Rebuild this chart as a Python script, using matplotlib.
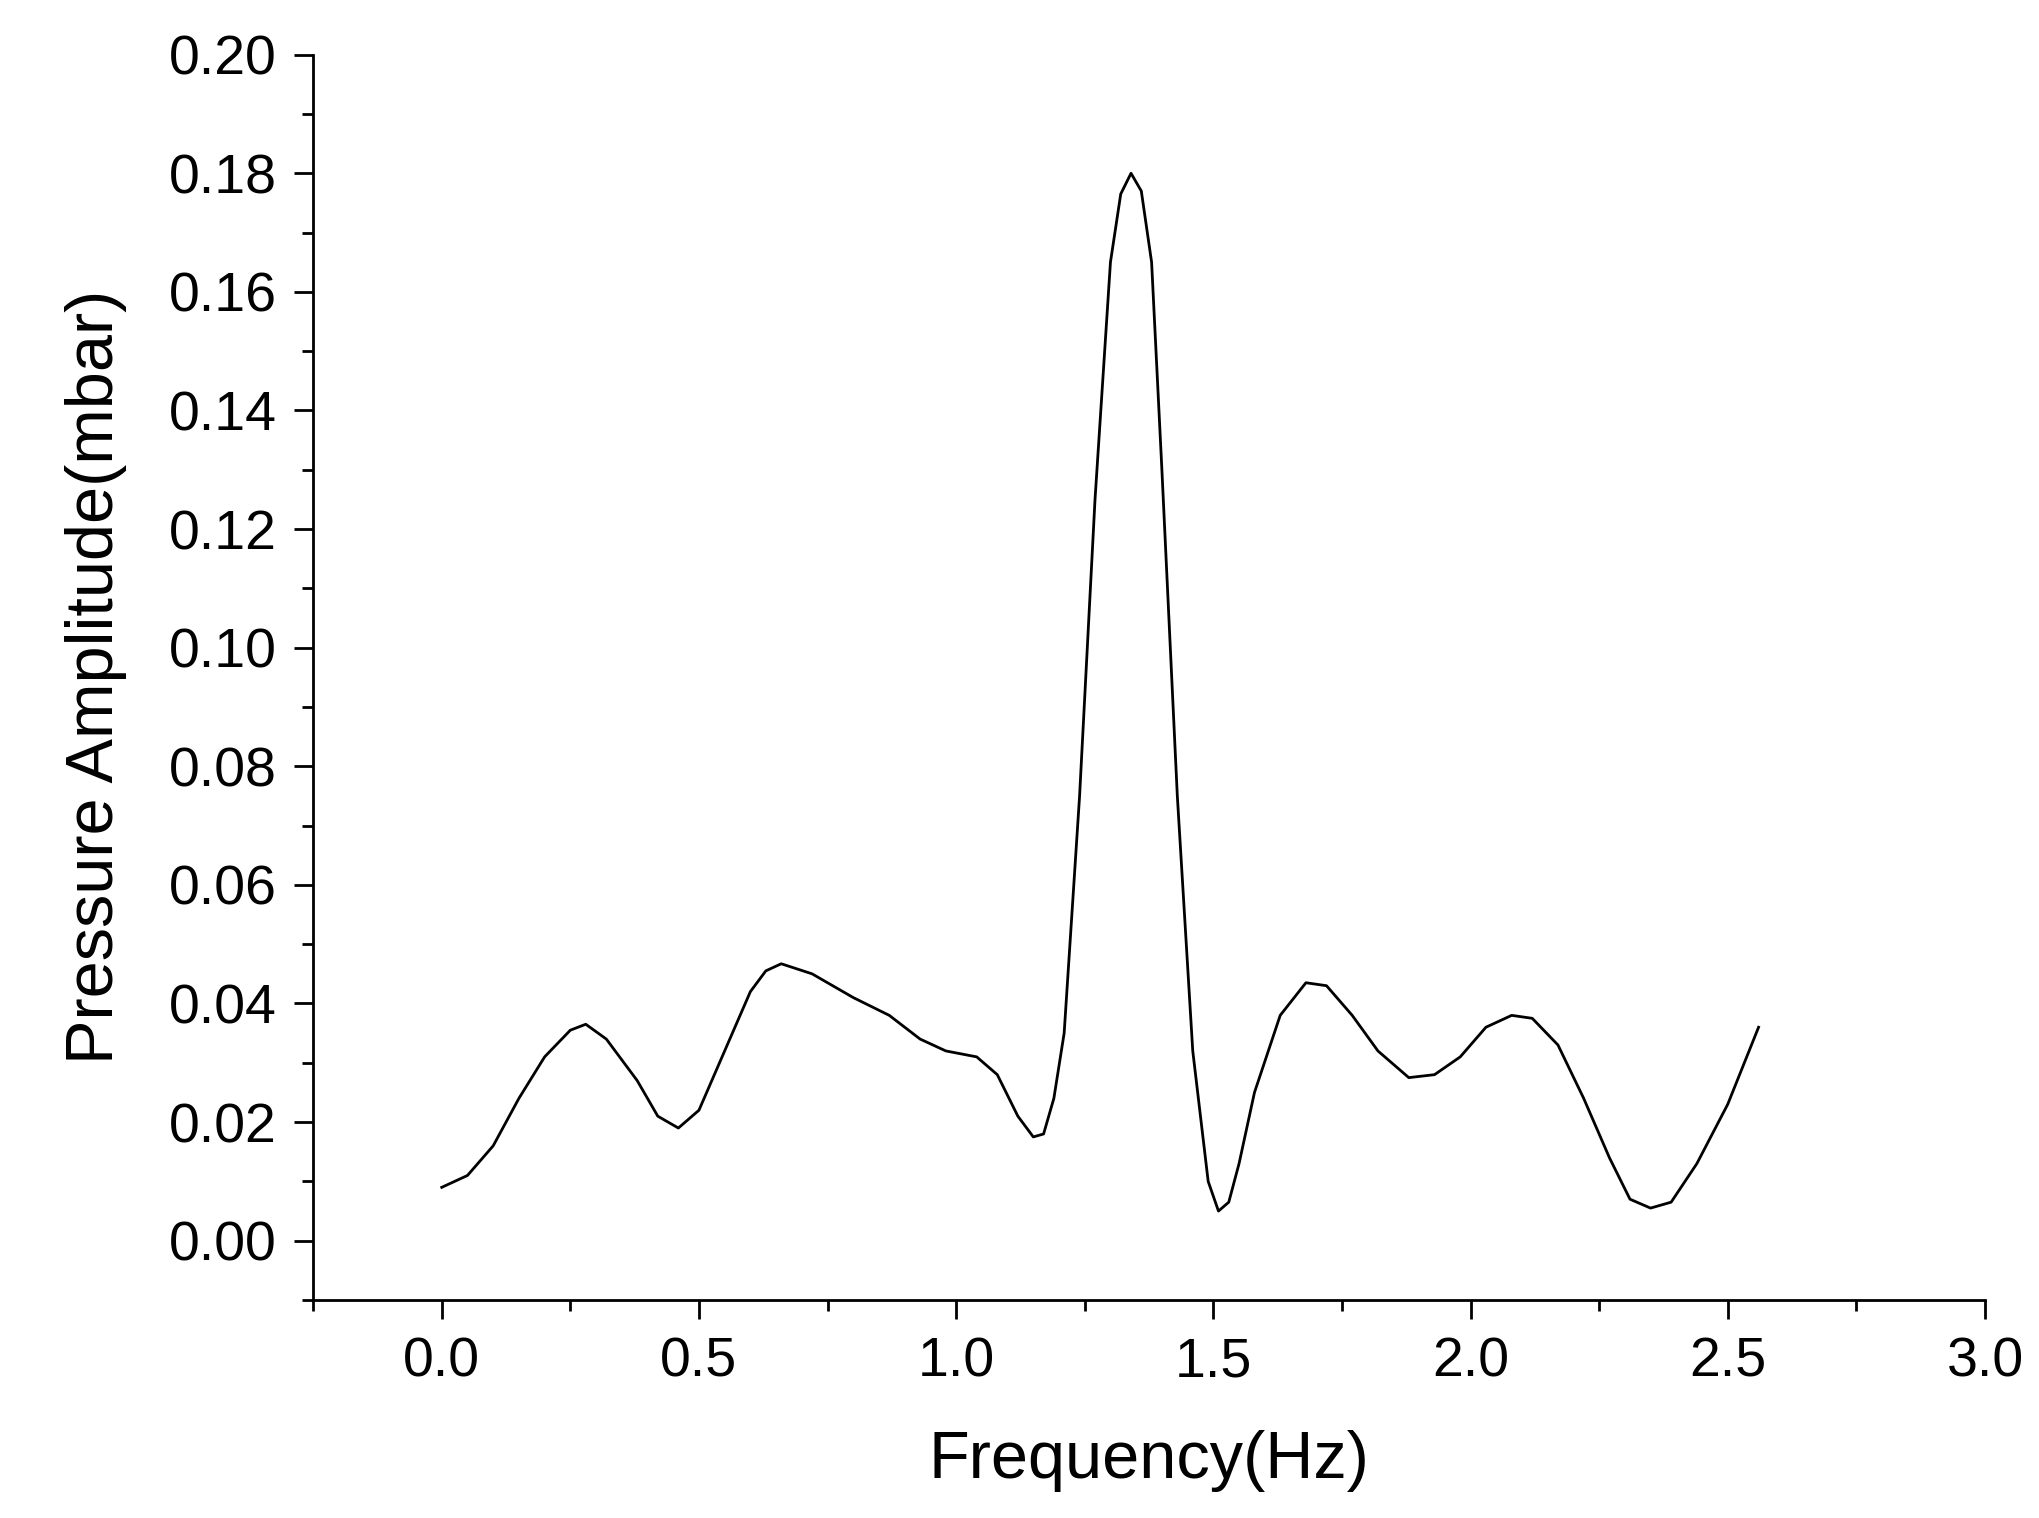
import matplotlib
matplotlib.use("Agg")
import matplotlib.pyplot as plt
from matplotlib.ticker import MultipleLocator

freq = [0, 0.05, 0.1, 0.15, 0.2, 0.25, 0.28, 0.32, 0.38, 0.42, 0.46, 0.5, 0.55, 0.6, 0.63, 0.66, 0.72,
        0.8, 0.87, 0.93, 0.98, 1.04, 1.08, 1.12, 1.15, 1.17, 1.19, 1.21, 1.24, 1.27, 1.30, 1.32, 1.34,
        1.36, 1.38, 1.40, 1.43, 1.46, 1.49, 1.51, 1.53, 1.55, 1.58, 1.63, 1.68, 1.72, 1.77, 1.82,
        1.88, 1.93, 1.98, 2.03, 2.08, 2.12, 2.17, 2.22, 2.27, 2.31, 2.35, 2.39, 2.44, 2.5, 2.56]
amp = [0.009, 0.011, 0.016, 0.024, 0.031, 0.0355, 0.0365, 0.034, 0.027, 0.021, 0.019, 0.022, 0.032,
       0.042, 0.0455, 0.0467, 0.045, 0.041, 0.038, 0.034, 0.032, 0.031, 0.028, 0.021, 0.0175, 0.0180,
       0.024, 0.035, 0.075, 0.125, 0.165, 0.1765, 0.18, 0.177, 0.165, 0.13, 0.075, 0.032, 0.010,
       0.005, 0.0065, 0.013, 0.025, 0.038, 0.0435, 0.043, 0.038, 0.032, 0.0275, 0.028, 0.031, 0.036,
       0.038, 0.0375, 0.033, 0.024, 0.014, 0.007, 0.0055, 0.0065, 0.013, 0.023, 0.036]

plt.rcParams['font.family'] = ['Liberation Sans', 'DejaVu Sans']
fig = plt.figure(figsize=(20.4, 15.18), dpi=100)
ax = fig.add_axes([0.1535, 0.1436, 0.8195, 0.8204])
ax.plot(freq, amp, color='black', lw=2)
ax.set_xlim(-0.25, 3.0)
ax.set_ylim(-0.01, 0.20)
ax.xaxis.set_minor_locator(MultipleLocator(0.25))
ax.yaxis.set_minor_locator(MultipleLocator(0.01))
xt = [0, 0.5, 1.0, 1.5, 2.0, 2.5, 3.0]
ax.set_xticks(xt)
ax.set_xticklabels(['%.1f' % v for v in xt])
yt = [0.0, 0.02, 0.04, 0.06, 0.08, 0.10, 0.12, 0.14, 0.16, 0.18, 0.20]
ax.set_yticks(yt)
ax.set_yticklabels(['%.2f' % v for v in yt])
for s in ['top', 'right']:
    ax.spines[s].set_visible(False)
for s in ['left', 'bottom']:
    ax.spines[s].set_linewidth(2)
ax.tick_params(which='major', direction='out', length=14, width=2, labelsize=40, pad=12)
ax.tick_params(which='minor', direction='out', length=8, width=2)
ax.set_xlabel('Frequency(Hz)', fontsize=48, labelpad=30)
ax.set_ylabel('Pressure Amplitude(mbar)', fontsize=48, labelpad=30)
fig.savefig('out.png', dpi=100, facecolor='white')
